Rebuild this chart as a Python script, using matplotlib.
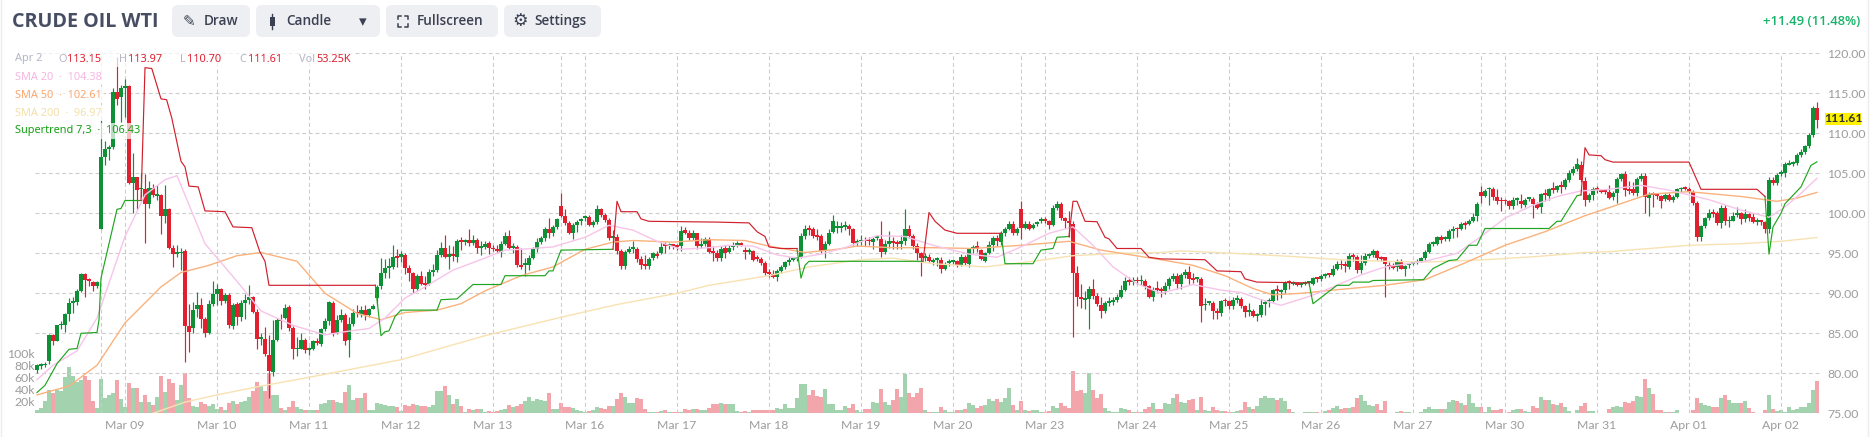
import numpy as np
import matplotlib
matplotlib.use("Agg")
import matplotlib.pyplot as plt
from matplotlib.patches import FancyBboxPatch, Rectangle

# hourly candles
opens = [80.4,80.9,81.0,81.5,84.8,84.1,86.0,86.1,87.4,88.8,
 88.9,90.3,92.4,91.7,91.4,90.9,98.1,107.1,108.1,108.3,
 115.2,114.5,115.7,115.9,103.8,104.5,103.0,103.1,101.2,103.2,
 102.2,102.3,99.7,100.6,95.7,94.9,95.0,95.3,85.9,85.7,
 88.0,88.6,86.8,85.0,88.7,89.9,90.5,89.1,89.8,85.9,
 88.7,87.1,88.8,89.2,89.5,87.7,84.3,84.3,82.3,80.2,
 84.2,86.7,86.9,88.3,85.7,83.0,83.1,84.2,82.9,83.1,
 84.0,83.7,85.5,86.5,88.8,85.1,86.7,87.3,84.2,86.2,
 87.6,87.4,87.9,87.3,88.0,89.4,90.9,92.5,93.2,93.3,
 94.5,94.6,94.8,93.2,92.5,90.5,92.2,91.2,91.2,92.7,
 92.9,94.8,95.7,94.5,94.9,94.5,96.5,96.4,96.7,96.3,
 96.7,95.7,95.8,96.3,95.6,95.5,95.2,96.2,97.2,95.7,
 95.8,93.6,93.6,93.6,94.4,95.6,96.4,96.9,98.0,97.5,
 98.3,100.9,99.7,98.8,97.6,98.5,99.1,99.4,99.6,98.5,
 98.9,100.5,99.8,99.2,96.9,97.0,95.3,93.4,95.2,95.6,
 95.6,94.3,93.5,93.4,94.4,94.8,95.0,96.0,95.9,96.0,
 95.9,95.9,97.9,97.6,96.9,97.5,95.9,96.2,96.8,95.2,
 95.1,94.4,95.7,95.2,95.8,96.1,96.2,95.3,95.2,95.3,
 94.4,94.3,93.8,92.5,92.4,92.0,92.8,93.3,93.9,94.2,
 94.3,94.5,97.2,98.0,98.0,97.2,97.2,95.3,96.2,97.7,
 98.2,98.2,98.3,98.4,98.0,96.3,96.5,96.6,96.6,96.4,
 96.9,96.8,95.2,96.2,96.6,96.3,96.2,96.5,98.0,97.2,
 95.9,95.0,94.4,94.6,93.9,94.2,94.2,93.0,93.8,93.9,
 94.0,93.5,94.5,93.7,95.5,95.9,95.4,94.1,95.0,96.0,
 96.9,96.4,97.5,98.0,98.7,97.5,100.5,98.2,98.7,98.2,
 98.7,99.0,99.3,99.0,98.6,100.7,101.2,99.4,98.9,98.7,
 92.5,89.4,89.2,89.3,90.5,89.7,88.6,87.8,88.8,88.9,
 89.2,89.6,90.4,91.5,91.4,91.6,91.5,91.6,90.9,89.6,
 90.5,90.4,90.3,90.9,91.8,92.2,91.2,92.3,92.7,91.8,
 91.8,91.8,88.5,88.8,88.8,87.7,87.6,89.1,89.0,88.4,
 89.2,89.3,88.4,87.7,87.8,87.2,87.3,88.7,89.0,89.0,
 90.4,90.2,90.4,91.4,91.2,91.2,91.1,91.2,91.3,91.2,
 91.9,91.8,92.2,92.4,92.3,93.1,93.6,93.5,93.3,94.7,
 94.6,92.9,93.8,94.7,94.8,95.3,94.4,94.5,93.4,93.3,
 93.3,94.1,93.1,93.5,93.7,93.8,94.1,94.4,95.2,96.2,
 96.2,97.0,96.8,96.8,97.8,98.1,98.0,98.7,98.7,99.1,
 99.7,102.7,102.2,103.0,103.0,102.0,101.6,101.6,101.5,100.9,
 101.7,101.6,101.0,101.8,101.8,101.2,100.8,102.4,102.2,103.0,
 102.9,103.4,103.3,104.2,105.1,105.6,106.1,104.0,101.7,102.3,
 103.0,102.8,102.8,102.7,102.1,102.6,104.3,104.9,103.0,103.1,
 102.5,104.3,104.7,101.9,102.4,102.3,102.2,101.8,102.3,101.7,
 102.1,103.0,103.2,103.0,102.7,101.3,97.0,98.4,99.4,100.0,
 100.0,98.8,100.7,99.0,99.1,99.8,100.0,99.3,99.9,99.5,
 98.9,99.0,98.9,98.0,104.2,103.8,104.9,105.1,106.1,106.2,
 106.3,107.3,107.7,108.4,109.8,113.15]

closes = [81.0,81.1,81.2,84.8,84.1,86.0,86.1,87.4,88.8,88.9,
 90.3,92.4,91.7,91.6,90.9,91.4,107.1,108.0,108.3,115.2,
 114.3,115.7,115.8,103.8,104.5,102.9,103.1,101.2,103.2,102.3,
 102.3,99.7,100.5,95.7,94.9,95.0,95.2,85.9,85.2,87.9,
 88.6,86.8,85.0,88.7,89.9,90.5,89.1,89.8,86.0,88.6,
 87.1,88.8,89.2,89.5,87.7,84.3,84.4,82.4,80.3,84.2,
 86.7,86.5,88.2,85.7,83.0,83.1,84.2,82.9,83.1,84.0,
 83.8,85.5,86.5,88.9,85.1,86.7,87.3,84.1,86.2,87.6,
 87.5,87.9,87.3,88.0,88.4,90.8,92.5,93.2,93.3,94.5,
 94.4,94.9,93.2,92.5,90.5,92.2,91.2,91.1,92.7,92.9,
 94.8,95.7,94.5,94.9,94.7,96.5,96.4,96.5,96.3,96.7,
 95.7,95.8,96.2,95.7,95.5,95.3,96.2,97.2,95.7,95.8,
 93.6,93.3,93.7,94.4,95.6,96.4,96.9,98.0,97.5,98.3,
 99.3,99.7,98.8,97.6,98.5,98.9,99.2,99.5,98.5,98.9,
 100.5,99.8,99.2,96.9,97.0,95.3,93.4,95.2,95.6,95.7,
 94.3,93.5,93.4,94.3,95.0,94.7,95.8,95.9,96.0,95.9,
 95.8,97.8,97.6,96.9,97.5,95.9,96.2,96.8,95.2,95.1,
 94.4,95.6,95.1,95.7,96.0,96.2,96.1,95.2,95.3,94.2,
 94.3,93.8,92.5,92.4,92.0,92.8,93.3,93.9,94.2,94.3,
 94.4,97.2,98.0,97.9,97.2,97.1,95.3,96.2,97.6,99.0,
 98.3,98.3,98.4,98.0,96.3,96.5,96.6,96.5,96.5,96.8,
 97.0,95.2,96.2,96.6,96.3,96.2,96.5,98.1,97.2,95.9,
 95.1,94.4,94.7,94.1,94.0,94.3,93.0,93.7,93.9,94.0,
 93.5,94.5,93.8,95.5,95.8,95.6,94.3,95.0,96.0,96.9,
 96.6,97.5,98.0,98.7,97.5,98.1,98.2,98.7,98.1,98.5,
 98.9,99.3,99.0,98.6,100.7,101.2,99.4,99.0,98.8,92.6,
 89.5,89.3,89.3,90.5,89.7,88.7,87.8,88.8,88.9,89.2,
 89.6,90.4,91.5,91.4,91.7,91.5,91.6,90.9,89.6,90.4,
 90.4,90.3,90.9,91.8,92.2,91.2,92.3,92.7,91.8,91.7,
 91.9,88.4,88.7,88.9,87.8,87.6,89.0,89.0,88.4,89.2,
 89.3,88.4,87.7,87.8,87.2,87.3,88.5,88.8,89.1,90.4,
 90.3,90.3,91.3,91.3,91.3,91.1,91.2,91.3,91.4,91.9,
 91.8,92.2,92.3,92.3,93.1,93.7,93.5,93.4,94.7,94.6,
 92.9,93.8,94.7,94.8,95.3,94.4,94.3,93.7,93.3,93.2,
 94.1,93.1,93.4,93.6,93.8,94.1,94.4,95.2,96.2,96.3,
 97.0,96.7,96.9,97.8,98.1,98.0,98.7,98.6,99.1,99.6,
 101.2,102.2,102.8,103.1,102.0,101.6,101.5,101.5,100.9,101.7,
 101.8,101.2,101.7,101.9,101.2,100.7,102.4,102.3,103.0,102.9,
 103.4,103.3,104.2,105.0,105.6,106.2,104.2,101.7,102.3,103.0,
 102.9,102.7,102.7,101.9,102.6,104.3,104.9,102.9,102.8,102.6,
 104.3,104.7,102.1,102.4,102.3,102.2,101.6,102.3,101.7,102.1,
 103.0,103.1,103.1,102.7,101.3,97.0,98.4,99.4,100.0,99.9,
 98.8,100.7,99.1,99.1,99.7,99.9,99.3,99.9,99.4,98.9,
 99.0,98.9,98.1,104.2,103.8,104.8,105.1,106.2,106.2,106.3,
 107.3,107.7,108.4,109.8,113.15,111.61]

highs = [81.2,81.3,81.4,84.9,84.9,86.1,86.5,87.6,89.4,89.6,
 90.5,92.6,92.6,91.9,91.6,91.6,111.7,109.0,108.6,115.7,
 119.5,116.0,116.8,116.0,107.5,104.6,105.0,104.9,104.1,103.7,
 103.5,102.4,103.5,100.7,96.0,96.0,95.7,95.6,88.7,88.9,
 90.2,89.4,87.1,89.2,91.5,91.2,90.7,90.0,90.1,88.8,
 88.9,89.2,89.9,91.0,89.7,88.0,85.0,85.8,84.8,86.7,
 86.9,87.4,88.7,88.5,85.9,84.5,85.0,84.4,83.3,84.2,
 84.4,85.7,86.9,89.1,89.0,87.3,88.0,87.5,87.0,88.0,
 88.6,88.4,88.6,88.2,88.7,91.0,94.4,94.3,94.4,96.0,
 95.5,95.3,95.0,93.6,92.7,92.4,92.8,92.2,93.1,93.7,
 95.4,96.4,97.3,96.1,95.9,96.8,97.0,96.8,98.1,97.3,
 96.9,96.5,96.5,96.6,96.1,96.0,96.6,97.7,97.9,96.3,
 96.0,95.7,94.4,94.8,95.8,96.9,97.2,98.3,99.4,98.5,
 99.4,102.5,100.5,99.1,98.8,99.2,99.4,99.8,99.8,99.2,
 101.0,100.7,100.0,99.4,97.9,97.4,95.5,95.4,95.9,96.6,
 95.8,94.7,94.8,94.5,95.2,95.3,96.4,96.4,96.3,96.2,
 96.2,98.4,98.3,97.9,97.9,97.6,96.9,97.0,97.0,95.9,
 95.4,95.9,96.0,96.0,96.4,96.5,96.4,95.8,95.7,95.4,
 94.8,94.5,94.0,93.0,92.9,93.0,93.5,94.1,94.5,94.5,
 94.6,97.6,98.6,98.6,98.3,98.0,97.4,96.5,98.0,99.8,
 99.0,98.9,99.1,98.7,98.2,96.8,97.3,97.1,97.0,97.1,
 97.2,99.0,96.7,97.8,97.0,96.7,97.3,100.5,98.6,97.4,
 96.3,95.2,95.0,94.9,94.4,94.6,94.5,93.9,94.3,94.2,
 94.2,94.9,94.8,95.7,96.1,96.5,95.6,95.2,96.6,97.2,
 97.3,97.8,98.3,99.0,99.0,98.3,101.5,99.1,99.0,98.8,
 99.1,99.5,99.5,99.2,101.0,101.6,101.4,99.6,100.3,99.0,
 93.4,91.2,90.3,90.9,91.8,90.0,89.5,89.0,89.6,89.6,
 89.9,91.0,92.0,92.0,92.0,92.0,92.3,91.8,91.1,90.8,
 91.6,90.8,91.4,92.0,92.6,92.5,92.5,93.0,93.4,92.6,
 92.0,92.0,89.4,89.1,89.0,88.2,89.2,89.4,89.2,89.5,
 89.8,89.5,88.6,88.8,88.0,87.5,89.3,89.2,89.4,90.6,
 91.0,90.5,91.5,91.7,91.5,91.4,91.3,91.6,91.6,92.0,
 92.1,92.4,92.5,92.5,93.5,94.0,94.2,94.0,95.0,95.1,
 94.8,94.8,95.0,95.0,95.6,95.4,94.7,94.6,93.9,93.8,
 94.3,94.3,93.6,93.8,94.0,94.3,94.6,95.4,96.4,96.6,
 97.2,97.3,97.2,98.0,98.4,98.3,98.9,99.0,99.3,100.0,
 101.4,103.4,103.0,103.3,103.3,103.1,102.0,101.8,101.7,102.0,
 102.1,102.4,101.9,102.1,102.0,101.4,102.6,103.0,103.2,103.9,
 103.6,104.0,104.4,105.4,105.9,106.9,106.5,104.5,102.6,103.3,
 103.4,103.1,103.1,103.5,102.8,104.6,105.1,105.3,104.1,103.9,
 104.6,105.0,105.0,102.7,102.7,102.6,102.3,102.6,102.5,102.3,
 103.2,103.3,103.4,103.3,102.9,101.5,98.6,99.6,100.6,100.6,
 100.3,101.0,101.1,99.7,100.2,100.8,100.2,100.5,100.1,100.0,
 99.4,99.1,99.1,104.6,104.5,105.0,105.4,106.4,106.7,106.6,
 107.5,108.0,108.6,110.0,113.4,113.97]

lows = [80.0,80.5,80.8,81.2,83.5,84.0,85.5,85.2,86.5,87.5,
 88.6,90.2,89.6,90.9,90.3,90.7,98.1,106.0,106.7,108.0,
 113.5,111.4,112.0,103.7,100.1,100.5,102.0,96.3,100.7,102.0,
 101.7,97.4,98.8,95.6,93.3,94.5,92.9,81.4,82.7,85.0,
 87.0,85.7,84.5,84.9,88.4,88.6,88.5,88.8,85.7,85.5,
 86.0,86.6,86.8,88.7,87.5,83.0,83.5,82.2,76.9,79.7,
 84.1,85.6,86.8,85.3,81.8,82.2,83.0,82.6,82.3,82.9,
 83.5,83.4,85.3,86.0,84.7,84.9,86.4,83.6,82.1,85.9,
 87.0,87.0,86.7,87.0,88.0,88.5,90.6,91.9,91.9,93.1,
 93.3,93.9,92.4,91.5,90.0,90.3,91.0,90.6,91.0,92.2,
 92.7,94.5,94.4,93.0,94.0,93.9,95.4,96.1,95.9,96.0,
 95.0,94.8,95.6,94.9,95.3,95.0,94.6,96.0,95.5,95.1,
 93.3,93.1,92.2,92.9,94.3,95.2,96.2,96.6,96.9,97.2,
 98.1,99.5,98.6,97.4,96.8,97.7,98.5,99.1,98.4,98.3,
 98.7,99.5,98.9,96.7,96.5,94.9,93.0,93.0,95.0,95.0,
 93.9,93.0,93.0,93.1,94.2,94.4,94.9,95.1,95.5,95.5,
 95.4,95.3,97.4,96.7,96.7,95.6,95.7,95.9,95.0,94.0,
 94.0,94.0,94.4,95.0,95.4,95.8,95.9,94.3,94.9,94.1,
 94.0,93.5,92.3,92.1,91.9,91.6,92.5,93.1,93.6,94.0,
 94.1,94.4,96.8,97.3,96.9,96.7,95.0,94.4,96.0,97.6,
 97.5,97.7,97.9,97.3,96.1,95.9,96.1,95.9,96.0,95.5,
 96.7,94.5,94.9,95.7,95.6,95.5,95.5,96.1,96.9,95.6,
 94.2,92.2,94.0,93.9,93.6,93.4,92.6,92.9,93.4,93.7,
 93.3,93.4,93.6,93.3,95.0,95.2,94.2,93.9,94.9,95.3,
 95.9,96.0,97.2,97.9,97.3,97.3,96.8,98.0,97.9,98.0,
 98.4,98.8,98.8,98.0,98.4,100.4,99.2,98.2,97.0,84.5,
 88.4,88.2,88.1,85.5,89.3,88.4,86.9,87.5,88.4,88.6,
 88.9,89.4,90.3,91.0,91.1,91.2,91.0,90.6,89.4,89.0,
 90.2,89.5,89.9,90.6,91.5,90.5,90.6,91.9,91.2,91.3,
 91.4,86.4,87.9,88.5,86.8,86.8,87.2,88.4,88.1,88.1,
 88.8,88.2,87.1,87.2,87.0,86.6,87.0,87.3,88.3,88.9,
 89.2,89.4,90.1,90.6,91.0,90.9,90.8,91.0,91.0,91.0,
 91.4,91.6,91.9,92.1,92.2,92.9,93.1,92.7,93.0,94.0,
 92.6,92.5,93.6,94.4,94.6,94.2,94.1,89.6,93.0,93.0,
 92.8,93.0,92.2,93.2,93.5,93.7,93.9,94.2,95.0,95.9,
 96.0,96.3,96.5,96.6,96.9,97.1,97.9,98.0,98.5,98.9,
 99.1,101.3,102.0,101.1,101.7,101.2,100.3,101.2,100.6,100.5,
 101.1,100.7,100.8,101.5,99.4,100.5,100.1,101.5,101.7,102.6,
 102.7,102.5,103.1,103.9,104.8,105.3,103.9,100.9,101.4,101.7,
 102.6,102.5,102.4,101.8,101.7,101.3,104.0,102.2,102.4,102.3,
 102.2,104.1,100.0,99.7,100.8,101.8,100.7,101.5,101.5,101.4,
 101.9,102.7,102.9,102.5,101.0,96.6,96.5,98.2,99.2,99.5,
 98.5,98.2,98.6,98.3,99.0,99.5,98.7,98.9,99.0,98.8,
 98.5,98.5,97.6,97.5,103.5,103.6,104.7,104.6,106.0,105.9,
 106.1,107.1,107.4,108.2,109.5,110.7]

# volume in thousands
volumes = [6,9,20,39,34,39,38,60,77,62,
 53,56,62,56,20,9,58,26,30,34,
 56,24,10,51,42,42,19,30,19,14,
 27,63,35,58,50,22,48,67,26,12,
 10,19,16,13,16,8,11,6,17,21,
 16,19,20,27,37,52,45,37,67,31,
 31,9,6,10,21,10,8,6,5,6,
 6,16,18,23,23,19,18,36,48,23,
 25,25,34,6,6,18,16,14,12,13,
 11,4,14,12,16,14,12,13,11,14,
 37,38,46,31,16,24,13,3,8,5,
 8,8,3,4,3,4,6,7,14,10,
 13,16,20,28,21,24,22,20,34,7,
 7,17,11,10,9,5,4,3,4,5,
 11,9,8,13,13,24,34,27,17,17,
 26,24,8,3,3,3,4,6,3,2,
 3,3,8,6,8,8,5,5,9,16,
 16,17,16,16,16,4,2,4,2,6,
 6,6,6,6,6,9,8,16,9,9,
 26,49,49,31,39,29,28,41,16,16,
 5,5,13,9,16,6,3,7,8,19,
 18,41,19,14,23,41,27,66,34,28,
 34,43,6,2,2,3,11,6,3,3,
 5,5,8,18,14,9,13,14,24,21,
 24,19,26,43,14,6,21,6,4,6,
 5,3,2,4,13,9,18,13,9,71,
 38,39,34,67,39,26,33,9,4,2,
 3,9,8,6,3,3,3,8,11,18,
 8,8,17,16,26,33,19,18,23,24,
 6,28,6,4,11,6,4,4,2,2,
 4,6,19,11,8,13,26,29,25,26,
 23,26,21,8,2,1,1,3,3,3,
 3,1,4,6,9,13,8,9,9,11,
 26,31,20,14,13,16,6,21,1,1,
 3,4,3,2,1,1,2,7,10,7,
 7,7,8,19,22,21,17,14,32,18,
 11,10,3,10,6,6,8,1,2,6,
 7,8,4,3,12,9,27,22,22,16,
 14,17,11,4,1,6,12,17,4,4,
 1,1,1,7,11,12,10,19,17,21,
 29,28,57,42,33,6,6,2,2,3,
 6,1,1,1,6,25,17,14,13,10,
 10,25,31,23,18,17,17,21,9,3,
 1,1,6,31,7,4,5,3,10,6,
 8,10,11,17,39,53.25]

sma20_x = [0,4,10,15,22,27,32,35,42,50,56,64,72,77,83,87,92,97,104,112,117,121,129,137,143,149,155,161,168,173,179,185,190,196,202,210,217,224,233,240,246,253,259,264,269,275,281,289,296,301,306,311,318,324,331,337,347,355,361,367,374,380,386,393,401,408,418,426,433,437,441,445]
sma20_y = [79.2,81,82.8,86.9,97.1,102.3,104.2,104.7,96.2,91.5,87.8,86,84.8,85.2,85.6,86.9,89.4,90.8,92.9,94.4,95.4,95.5,95.8,97,98.5,97.9,96.5,95.5,95.7,96,95.9,94.8,94.4,94.9,95.7,97.2,97.1,96,94.9,94.5,95.8,97.5,98.3,96,93.3,91.2,90,91.1,90.4,90.1,89.2,88.5,89.6,90.8,92.3,93.3,94,95,97.1,99.4,101,102.1,102.8,103,103.5,102.9,101.7,100.4,99.5,100.8,102.5,104.38]

sma50_x = [0,8,15,22,31,36,43,50,56,65,72,80,86,92,100,106,112,121,129,137,144,149,159,168,177,183,192,200,205,214,224,234,246,258,266,281,289,297,304,309,316,324,337,347,357,367,377,387,393,403,413,426,435,440,445]
sma50_y = [77.3,78.4,81,86.3,90.8,92.6,93.5,94.7,95.1,94,90,87.5,86.7,87.6,87.9,88.7,90.3,92.2,93.3,95.5,96.4,96.6,96.4,96.7,96.6,95.9,95.1,95.5,95.9,95.7,95.7,95.6,96,96.5,95.4,94.2,93.5,92.2,90.6,89.8,90,90.4,91,91.7,93.8,96,97.7,99.7,100.7,102.4,102.7,102.1,101.5,101.9,102.61]

sma200_x = [29,37,45,56,68,91,112,131,145,160,168,183,193,206,214,224,237,249,259,271,281,286,299,314,326,337,347,362,375,387,393,413,426,436,445]
sma200_y = [75,76.4,77.3,78.4,79.5,81.7,84.7,87,88.6,90,91,92.2,93.3,94.2,94.4,93.7,93.3,94,94.7,95,95.1,95.3,95,94.6,94.2,94,93.9,94.2,94.6,95.1,95.2,96,96.2,96.5,96.97]

# supertrend pieces, each flip starts where the last piece stopped
st_green = [
 ([0,2,5,8,10,11,15,15.5,16,20,21,22,26],
  [77.6,78.5,81.2,83,83.1,85,85.1,86.7,91.9,100.5,100.6,101.6,101.6]),
 ([84.6,86,87,88,89.5,91,100,101,105,109,116,117,127,128,129,131,144],
  [91,84.7,85.2,85.3,87.1,87.9,87.9,89.2,89.3,91.1,91.1,92.2,92.2,92.8,92.8,95.4,95.5]),
 ([190,191,192,193,221.5],
  [95.6,91.9,93.5,94,94]),
 ([241,242,249,251,254,255,258],
  [97.5,93.7,93.7,95.4,95.6,97,97.1]),
 ([318,319,325,328,329,333,334,346.6,349,353,355,358,360,362,378,380,381,385,386],
  [91.3,88.7,91,91,91.4,91.4,91.6,91.7,93.1,94.1,94.2,96,96,98.1,98.1,99,99,102.2,102.3]),
 ([432,433,434,436,437,441,443.5,445],
  [102.1,94.9,98.3,100,101.2,103.3,106,106.43]),
]
st_red = [
 ([26,27,28.7,31,32.4,33.7,36,37,38,40.3,42,47,49,53.7,55.7,57,58,84.6],
  [101.6,118.2,118.1,114.3,114.2,111.9,106.5,105.8,103.4,103.3,100.3,100.2,98.3,98.2,95.2,94,91,91]),
 ([144,145,146,150,151,153,170,178,180,182,183,186,190],
  [95.5,101.5,100.2,100.2,99.3,99,98.9,98.8,97.7,97.1,95.8,95.6,95.6]),
 ([221.5,223,224.5,227,230,241],
  [94,100.1,99,97.9,97.5,97.5]),
 ([258,259,260,262,265,267,268,270,276,278,281,292,295,301,302,305,318],
  [97.1,101.5,101.5,99,98.95,97,96.8,95.6,95.6,94.5,94.3,94.2,92.8,92.7,91.8,91.4,91.3]),
 ([386,387,388,391,392,394,413,416,430,432],
  [102.3,108.2,107.3,107.2,106.7,106.4,106.4,103,103,102.1]),
]

date_ticks = [22,45,68,91,114,137,160,183,206,229,252,275,298,321,344,367,390,413,436]
date_labels = ["Mar 09","Mar 10","Mar 11","Mar 12","Mar 13","Mar 16","Mar 17","Mar 18","Mar 19","Mar 20",
               "Mar 23","Mar 24","Mar 25","Mar 26","Mar 27","Mar 30","Mar 31","Apr 01","Apr 02"]
week_lines = [16,131,246,361]
price_ticks = [75,80,85,90,95,100,105,110,115,120]
vol_ticks = [20,40,60,80,100]
vol_labels = ["20k","40k","60k","80k","100k"]

GREEN = "#0f8f36"
RED = "#e01f2f"
GRID = "#cccccc"
W, H = 1873, 437

plt.rcParams["font.family"] = ["Lato", "DejaVu Sans"]
fig = plt.figure(figsize=(W/100, H/100), dpi=100)

# axes box in pixels: index i sits at 37+4i, 8px per dollar
left, right, top, bottom = 35, 1820, 53.3, 413.3
pos = [left/W, 1-bottom/H, (right-left)/W, (bottom-top)/H]

o = np.array(opens)
c = np.array(closes)
hi = np.array(highs)
lo = np.array(lows)
v = np.array(volumes, dtype=float)
x = np.arange(len(o))
cols = [GREEN if a >= b else RED for a, b in zip(c, o)]
vol_cols = ["#a3d2af" if a >= b else "#f3a5ac" for a, b in zip(c, o)]

ax_vol = fig.add_axes(pos)
ax_vol.bar(x, v, width=1.02, color=vol_cols, linewidth=0)
ax_vol.set_xlim(-0.5, 445.75)
ax_vol.set_ylim(0, 600)
ax_vol.set_yticks(vol_ticks)
ax_vol.set_yticklabels(vol_labels, fontsize=8.8, color="#9c9c9c")
ax_vol.tick_params(axis="y", length=0, pad=0)
ax_vol.set_xticks([])
for s in ax_vol.spines.values():
    s.set_visible(False)

ax = fig.add_axes(pos)
ax.patch.set_visible(False)
ax.set_xlim(-0.5, 445.75)
ax.set_ylim(75, 120)
ax.yaxis.tick_right()
ax.set_yticks(price_ticks)
ax.set_yticklabels(["%.2f" % p for p in price_ticks], fontsize=8.8, color="#9c9c9c")
ax.set_xticks(date_ticks)
ax.set_xticklabels(date_labels, fontsize=8.8, color="#9c9c9c")
ax.tick_params(axis="both", length=0)
ax.tick_params(axis="y", pad=5)
ax.tick_params(axis="x", pad=5)
for s in ax.spines.values():
    s.set_visible(False)
ax.set_axisbelow(True)
ax.grid(True, color=GRID, lw=0.8, ls=(0, (3.5, 2.5)))
for w in week_lines:
    ax.axvline(w, color=GRID, lw=0.8, ls=(0, (3.5, 2.5)), zorder=0.5)

ax.vlines(x, lo, hi, colors=cols, lw=0.85, zorder=2)
body_h = np.maximum(np.abs(c-o), 0.2)
ax.bar(x, body_h, bottom=np.minimum(o, c), width=0.85, color=cols, linewidth=0, zorder=3)

ax.plot(sma200_x, sma200_y, color="#f8e2b2", lw=1.0, zorder=4)
ax.plot(sma50_x, sma50_y, color="#f9b27c", lw=1.0, zorder=4)
ax.plot(sma20_x, sma20_y, color="#f7c4ea", lw=1.0, zorder=4)
for sx, sy in st_green:
    ax.plot(sx, sy, color="#1fa51f", lw=0.85, zorder=5)
for sx, sy in st_red:
    ax.plot(sx, sy, color="#d0202c", lw=0.85, zorder=5)

# page furniture on top, in pixel coordinates
ui = fig.add_axes([0, 0, 1, 1], zorder=10)
ui.patch.set_visible(False)
ui.set_xlim(0, W)
ui.set_ylim(H, 0)
ui.axis("off")

ui.plot([1.5, 1.5], [0, H], color="#ececec", lw=1)
ui.plot([1868, 1868], [0, H], color="#ececec", lw=1)

ui.text(12, 21.7, "CRUDE OIL WTI", family="Open Sans", weight="bold", fontsize=14.2, color="#474d63", va="center")

buttons = [(172, 250), (256, 380), (386, 498), (504, 601)]
for a, b in buttons:
    ui.add_patch(FancyBboxPatch((a, 5), b-a, 32, boxstyle="round,pad=0,rounding_size=6",
                                fc="#eeeff2", ec="none"))
DARK = "#3b4152"
for px, s in [(204, "Draw"), (286, "Candle"), (417, "Fullscreen"), (534, "Settings")]:
    ui.text(px, 21, s, family="Open Sans", weight="semibold", fontsize=9.8, color=DARK, va="center")
# icons
ui.text(189, 21.5, "\u270e", family="DejaVu Sans", fontsize=11, color=DARK, ha="center", va="center")
ui.add_patch(Rectangle((270, 17), 5, 9, fc=DARK, ec="none"))
ui.plot([272.5, 272.5], [14, 29], color=DARK, lw=1)
ui.text(363, 21.5, "\u25be", family="DejaVu Sans", fontsize=11, color=DARK, ha="center", va="center")
for cx, cy, dx, dy in [(398, 16, 1, 1), (408, 16, -1, 1), (398, 27, 1, -1), (408, 27, -1, -1)]:
    ui.plot([cx+3*dx, cx, cx], [cy, cy, cy+3*dy], color=DARK, lw=1.1)
ui.text(520.5, 21.5, "\u2699", family="DejaVu Sans", fontsize=12.5, color=DARK, ha="center", va="center")

ui.text(1860, 21.5, "+11.49 (11.48%)", family="Open Sans", weight="semibold", fontsize=9.4, color="#17b36a", ha="right", va="center")

# last price tag
ui.add_patch(Rectangle((1825, 113), 36, 12, fc="#fff200", ec="none"))
ui.text(1843, 119, "111.61", fontsize=8.8, weight="bold", color="#333333", ha="center", va="center")

# legend block: wash first, then the words, so no word hides another
GREY = "#b4b6c4"
for x0, x1, ym in [(13, 355, 59), (13, 104, 77), (13, 104, 95), (13, 104, 113), (13, 140, 131)]:
    ui.add_patch(Rectangle((x0, ym-8), x1-x0, 16, fc="white", ec="none", alpha=0.72))

def legend(px, py, s, col):
    ui.text(px, py, s, family="Noto Sans", fontsize=7.9, color=col, va="center")

legend(15, 59, "Apr 2", GREY)
for px, s, col in [(58.5, "O", GREY), (67, "113.15", RED), (119.4, "H", GREY), (128.5, "113.97", RED),
                   (180, "L", GREY), (187, "110.70", RED), (239, "C", GREY), (248, "111.61", RED),
                   (299, "Vol", GREY), (316, "53.25K", RED)]:
    legend(px, 59, s, col)
legend(15, 77, "SMA 20  \u00b7  104.38", "#f6b6e2")
legend(15, 95, "SMA 50  \u00b7  102.61", "#f9a76e")
legend(15, 113, "SMA 200  \u00b7  96.97", "#f2e0ac")
legend(15, 131, "Supertrend 7,3  \u00b7  106.43", "#14a014")

fig.savefig("out.png", dpi=100)
